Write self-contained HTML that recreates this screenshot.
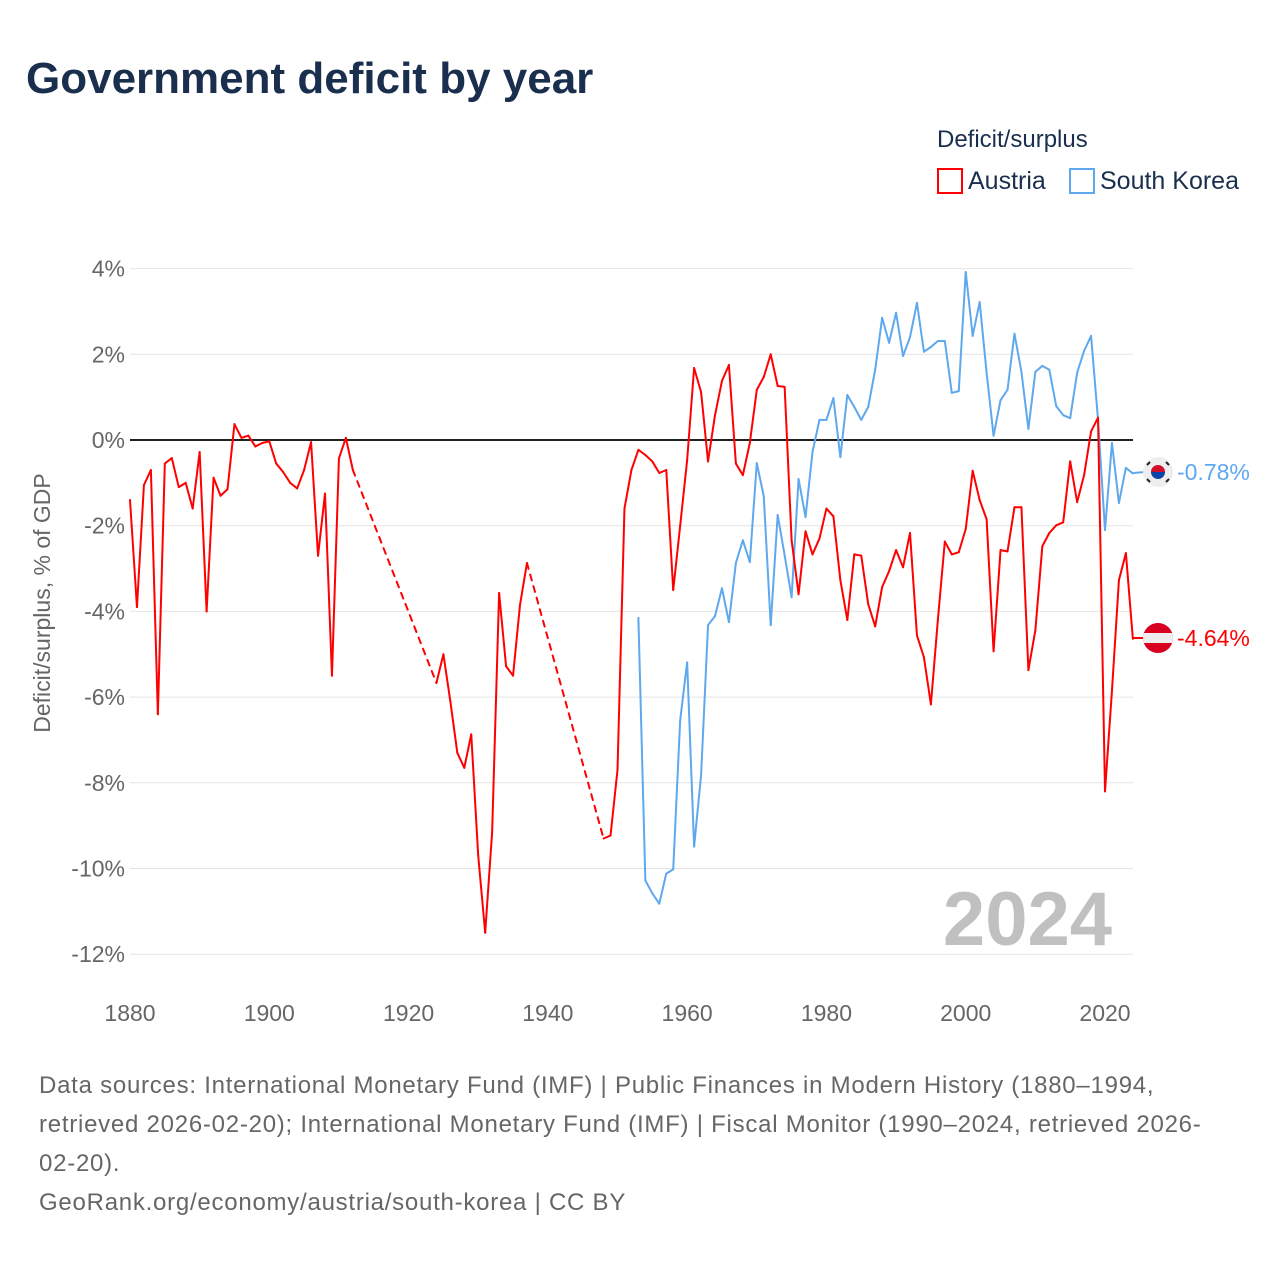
<!DOCTYPE html>
<html><head><meta charset="utf-8">
<style>
html,body{margin:0;padding:0;background:#fff;}
body{width:1280px;height:1280px;overflow:hidden;font-family:"Liberation Sans",sans-serif;}
svg text{font-family:"Liberation Sans",sans-serif;}
</style></head>
<body>
<svg id="chart" width="1280" height="1280" viewBox="0 0 1280 1280">
<text x="26" y="93" font-size="44" font-weight="bold" fill="#1a2f4e">Government deficit by year</text>
<text x="937" y="147" font-size="24" fill="#1a2f4e">Deficit/surplus</text>
<g>
<rect x="938" y="169" width="24" height="24" fill="none" stroke="#ff0000" stroke-width="2"/>
<text x="968" y="189" font-size="25" fill="#1a2f4e">Austria</text></g>
<g>
<rect x="1070" y="169" width="24" height="24" fill="none" stroke="#5ea8ee" stroke-width="2"/>
<text x="1100" y="189" font-size="25" fill="#1a2f4e">South Korea</text></g>
<text transform="translate(50,603) rotate(-90)" text-anchor="middle" font-size="23" fill="#666">Deficit/surplus, % of GDP</text>
<g id="grid"></g><g id="yt"></g><g id="xt"></g><g id="lines"></g>
<text x="1112" y="945" text-anchor="end" font-size="76" font-weight="bold" fill="#c0c0c0">2024</text>
<line x1="1133" y1="473" x2="1145" y2="472" stroke="#5ea8ee" stroke-width="2"/>
<line x1="1133" y1="638" x2="1145" y2="638" stroke="#ff0000" stroke-width="2"/>
<g>
<circle cx="1158" cy="472" r="15" fill="#eee"/>
<path d="M1151,472 a7,7 0 0 1 14,0 z" fill="#d0102a"/><path d="M1151,472 a7,7 0 0 0 14,0 z" fill="#0c45a8"/>
<g stroke="#222" stroke-width="2"><line x1="1147" y1="465" x2="1150" y2="462"/><line x1="1166" y1="462" x2="1169" y2="465"/><line x1="1147" y1="479" x2="1150" y2="482"/><line x1="1166" y1="482" x2="1169" y2="479"/></g></g>
<text x="1177" y="480" font-size="23" fill="#5ea8ee">-0.78%</text>
<g>
<clipPath id="cf"><circle cx="1158" cy="638" r="15"/></clipPath>
<g clip-path="url(#cf)"><rect x="1140" y="620" width="36" height="36" fill="#d8001e"/><rect x="1140" y="633" width="36" height="10" fill="#eee"/></g></g>
<text x="1177" y="646" font-size="23" fill="#ff0000">-4.64%</text>
<text font-size="24" fill="#666" letter-spacing="0.75">
<tspan x="39" y="1093">Data sources: International Monetary Fund (IMF) | Public Finances in Modern History (1880–1994,</tspan>
<tspan x="39" y="1132">retrieved 2026-02-20); International Monetary Fund (IMF) | Fiscal Monitor (1990–2024, retrieved 2026-</tspan>
<tspan x="39" y="1171">02-20).</tspan>
<tspan x="39" y="1210">GeoRank.org/economy/austria/south-korea | CC BY</tspan></text>
</svg>
<script>
const yTicks=[4,2,0,-2,-4,-6,-8,-10,-12];
const xTicks=[1880,1900,1920,1940,1960,1980,2000,2020];
const austriaYears=[1880,1881,1882,1883,1884,1885,1886,1887,1888,1889,1890,1891,1892,1893,1894,1895,1896,1897,1898,1899,1900,1901,1902,1903,1904,1905,1906,1907,1908,1909,1910,1911,1912,1924,1925,1926,1927,1928,1929,1930,1931,1932,1933,1934,1935,1936,1937,1948,1949,1950,1951,1952,1953,1954,1955,1956,1957,1958,1959,1960,1961,1962,1963,1964,1965,1966,1967,1968,1969,1970,1971,1972,1973,1974,1975,1976,1977,1978,1979,1980,1981,1982,1983,1984,1985,1986,1987,1988,1989,1990,1991,1992,1993,1994,1995,1996,1997,1998,1999,2000,2001,2002,2003,2004,2005,2006,2007,2008,2009,2010,2011,2012,2013,2014,2015,2016,2017,2018,2019,2020,2021,2022,2023,2024];
const austriaValues=[-1.4,-3.9,-1.05,-0.7,-6.4,-0.55,-0.42,-1.1,-1.0,-1.6,-0.28,-4.0,-0.88,-1.3,-1.15,0.37,0.05,0.1,-0.15,-0.07,-0.03,-0.55,-0.75,-1.0,-1.13,-0.7,-0.05,-2.7,-1.25,-5.5,-0.43,0.05,-0.7,-5.67,-5.0,-6.1,-7.3,-7.65,-6.87,-9.7,-11.5,-9.15,-3.57,-5.28,-5.5,-3.85,-2.87,-9.3,-9.23,-7.7,-1.6,-0.7,-0.23,-0.35,-0.5,-0.77,-0.7,-3.5,-2.0,-0.47,1.68,1.12,-0.5,0.58,1.38,1.75,-0.55,-0.82,-0.07,1.17,1.47,2.0,1.26,1.24,-2.34,-3.6,-2.13,-2.67,-2.3,-1.6,-1.78,-3.27,-4.2,-2.67,-2.7,-3.83,-4.35,-3.43,-3.06,-2.57,-2.97,-2.17,-4.56,-5.07,-6.17,-4.2,-2.37,-2.67,-2.62,-2.08,-0.72,-1.4,-1.85,-4.93,-2.57,-2.6,-1.57,-1.57,-5.37,-4.44,-2.48,-2.17,-1.99,-1.92,-0.5,-1.45,-0.82,0.2,0.52,-8.2,-5.85,-3.27,-2.64,-4.64];
const koreaYears=[1953,1954,1955,1956,1957,1958,1959,1960,1961,1962,1963,1964,1965,1966,1967,1968,1969,1970,1971,1972,1973,1974,1975,1976,1977,1978,1979,1980,1981,1982,1983,1984,1985,1986,1987,1988,1989,1990,1991,1992,1993,1994,1995,1996,1997,1998,1999,2000,2001,2002,2003,2004,2005,2006,2007,2008,2009,2010,2011,2012,2013,2014,2015,2016,2017,2018,2019,2020,2021,2022,2023,2024];
const koreaValues=[-4.15,-10.28,-10.58,-10.82,-10.12,-10.02,-6.54,-5.19,-9.49,-7.83,-4.32,-4.11,-3.46,-4.25,-2.87,-2.34,-2.85,-0.54,-1.31,-4.32,-1.75,-2.69,-3.67,-0.91,-1.8,-0.28,0.47,0.47,0.98,-0.4,1.05,0.77,0.47,0.77,1.64,2.85,2.27,2.97,1.96,2.4,3.2,2.06,2.17,2.31,2.31,1.1,1.14,3.92,2.43,3.22,1.57,0.1,0.93,1.17,2.48,1.59,0.26,1.59,1.73,1.64,0.79,0.58,0.51,1.57,2.08,2.43,0.47,-2.1,-0.07,-1.47,-0.65,-0.78];
const NS='http://www.w3.org/2000/svg';
const X=y=>130+(y-1880)*(975/140);
const Y=v=>440-v*42.85;
function mk(tag,attrs,parent){const e=document.createElementNS(NS,tag);for(const k in attrs)e.setAttribute(k,attrs[k]);parent.appendChild(e);return e;}
const grid=document.getElementById('grid'),yt=document.getElementById('yt'),xt=document.getElementById('xt'),lines=document.getElementById('lines');
yTicks.forEach(t=>{
  const l=mk('line',{x1:130,x2:1133,y1:Y(t),y2:Y(t),stroke:t===0?'#222':'#e4e4e4','stroke-width':t===0?2:1},grid);
  
  
  const tx=mk('text',{x:125,y:Y(t)+8,'text-anchor':'end','font-size':23,fill:'#666'},yt);
  tx.textContent=t+'%';
  
  
});
xTicks.forEach(t=>{
  const tx=mk('text',{x:X(t),y:1021,'text-anchor':'middle','font-size':23,fill:'#666'},xt);
  tx.textContent=t;
  
  
});
function drawSeries(years,vals,color,name){
  for(let i=1;i<years.length;i++){
    const gap=years[i]-years[i-1]>1;
    const l=mk('line',{x1:X(years[i-1]),y1:Y(vals[i-1]),x2:X(years[i]),y2:Y(vals[i]),stroke:color,'stroke-width':2,'stroke-linecap':'round'},lines);
    if(gap)l.setAttribute('stroke-dasharray','6,6');
    
    
  }
}
drawSeries(koreaYears,koreaValues,'#5ea8ee','korea-line');
drawSeries(austriaYears,austriaValues,'#ff0000','austria-line');
</script>
</body></html>
